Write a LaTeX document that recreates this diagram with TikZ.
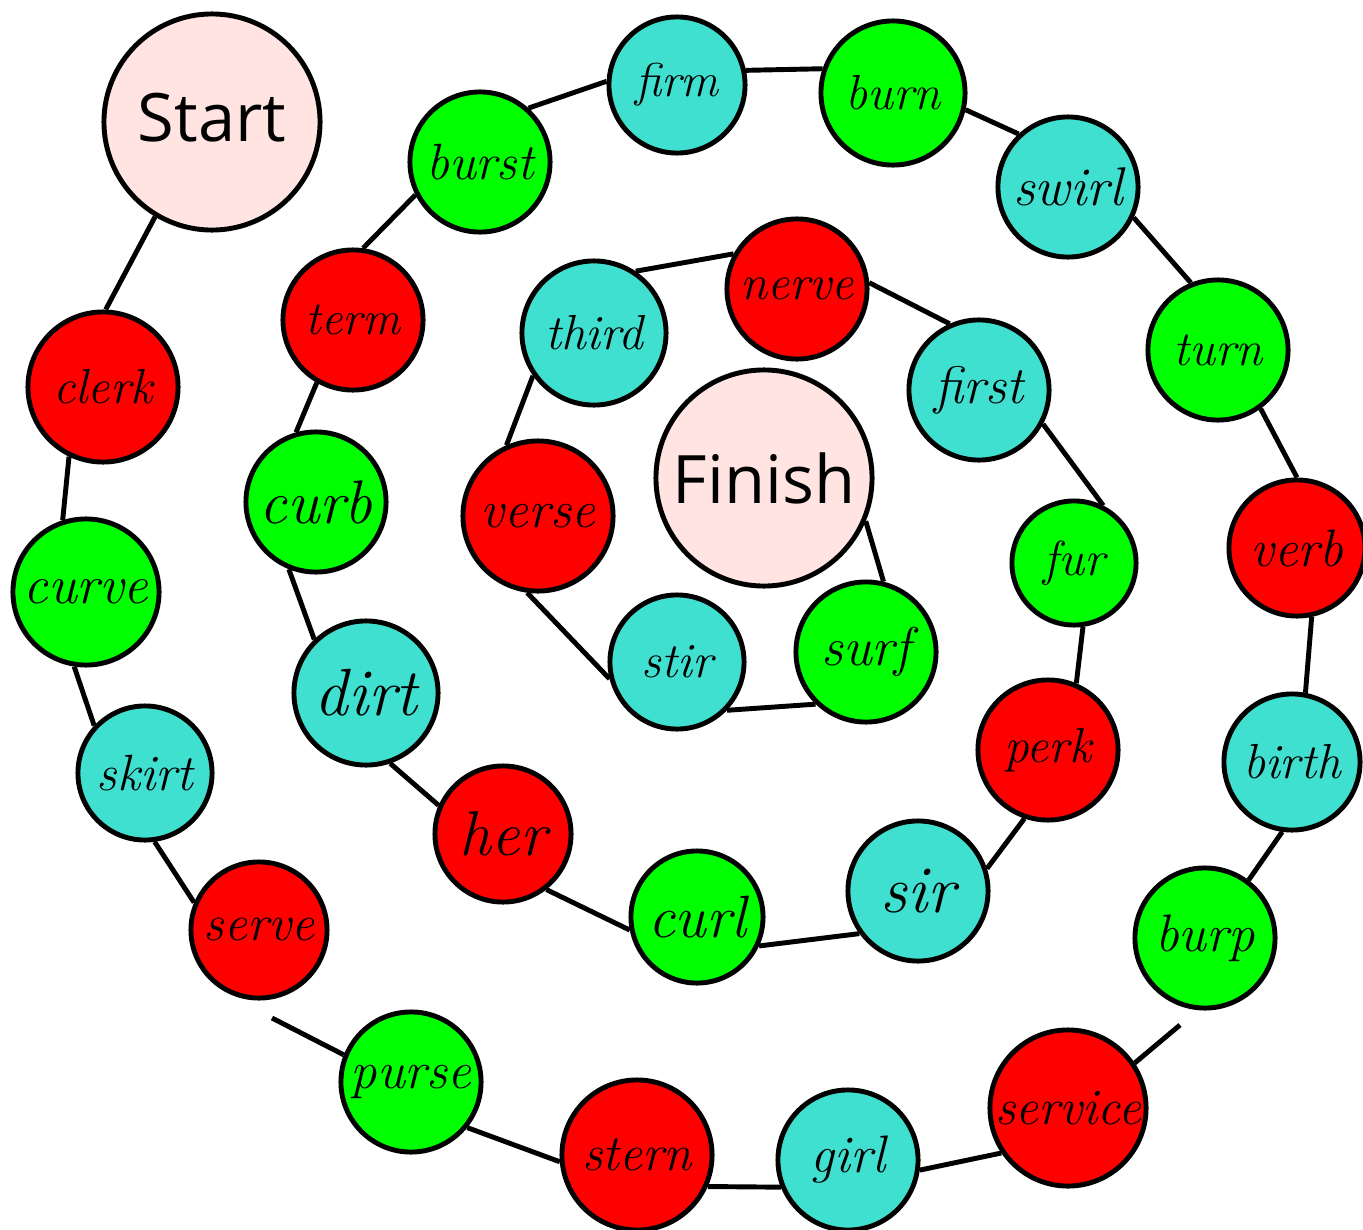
\documentclass[tikz,border=0pt]{standalone}
\usepackage{fontspec}
\setsansfont{Open Sans}

\definecolor{tilered}{HTML}{FF0000}
\definecolor{tilegreen}{HTML}{00FF00}
\definecolor{tilecyan}{HTML}{40E0D0}
\definecolor{tilepink}{HTML}{FFE4E1}

\tikzset{
  tile/.style={circle, draw=black, line width=1.4pt, inner sep=0pt},
  endtile/.style={tile, fill=tilepink, minimum size=2.16cm, font=\sffamily\fontsize{19}{19}\selectfont},
  link/.style={line width=1.4pt}
}

\begin{document}
\begin{tikzpicture}[x=0.01cm, y=-0.01cm]
  % Page is the size of the board (one unit = one pixel)
  \useasboundingbox (0,0) rectangle (1363,1230);

  % Start and Finish
  \node[endtile] (start) at (212,122) {\raisebox{0.09cm}{Start}};
  \node[endtile] (finish) at (764,478) {Finish};

  % Word tiles: word/x/y/radius/colour/font size
  \foreach \w/\x/\y/\r/\col/\s in {
      clerk/103/387/75/tilered/14, curve/86/592/73/tilegreen/15.5,
      skirt/145/773/67/tilecyan/14.5, serve/259/930/68/tilered/14.5,
      purse/411/1082/70/tilegreen/15, stern/637/1155/75/tilered/14.5,
      girl/848/1160/70/tilecyan/15, service/1068/1108/78/tilered/14.5,
      burp/1205/938/70/tilegreen/15, birth/1292/762/68/tilecyan/14,
      verb/1297/548/68/tilered/15, turn/1218/350/70/tilegreen/14,
      swirl/1068/187/70/tilecyan/15.5, burn/893/93/72/tilegreen/14,
      firm/677/85/68/tilecyan/13.5, burst/480/162/70/tilegreen/14.5,
      term/353/320/70/tilered/13.5, curb/316/502/70/tilegreen/17.5,
      dirt/366/693/72/tilecyan/19, her/503/834/68/tilered/18,
      curl/697/917/66/tilegreen/17, sir/918/891/70/tilecyan/19,
      perk/1048/750/70/tilered/14, fur/1074/563/62/tilegreen/14,
      first/979/390/70/tilecyan/15, nerve/797/289/70/tilered/14,
      third/594/333/72/tilecyan/14, verse/538/516/75/tilered/15,
      stir/677/662/67/tilecyan/14, surf/866/652/70/tilegreen/15.5}
    \node[tile, fill=\col, minimum size=\r*0.02cm,
          font=\itshape\fontsize{\s}{\s}\selectfont] (\w) at (\x,\y) {\w};

  % Path of the spiral, from Start inwards
  \foreach \a/\b in {start.239/clerk.88, clerk.244/curve.108, curve.261/skirt.137,
      skirt.278/serve.157, purse.321/stern.185, stern.336/girl.202,
      girl.352/service.214, burp.53/birth.262, birth.79/verb.282,
      verb.90/turn.306, turn.112/swirl.335, swirl.133/burn.347,
      burn.161/firm.12, firm.177/burst.48, burst.207/term.82,
      term.240/curb.106, curb.248/dirt.134, dirt.289/her.156,
      her.308/curl.191, curl.335/sir.216, sir.18/perk.251,
      perk.67/fur.278, fur.63/first.332, first.114/nerve.5,
      nerve.151/third.56, third.215/verse.114, verse.262/stir.194,
      stir.316/surf.226, surf.76/finish.337}
    \draw[link] (\a) -- (\b);

  % These two stop short of the tile
  \coordinate (serve gap) at (272,1018);
  \coordinate (burp gap) at (1180,1025);
  \draw[link] (serve gap) -- (purse.158);
  \draw[link] (service.34) -- (burp gap);
\end{tikzpicture}
\end{document}
